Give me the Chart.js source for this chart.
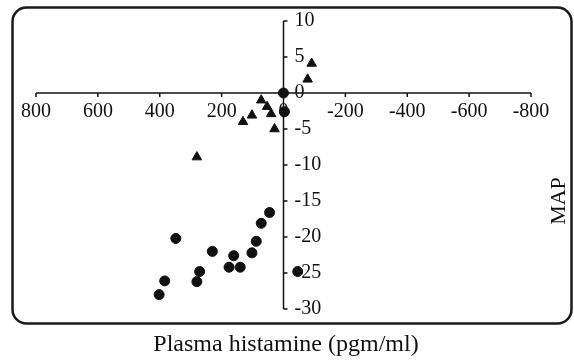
<!DOCTYPE html>
<html>
<head>
<meta charset="utf-8">
<script src="https://cdn.jsdelivr.net/npm/chart.js@4.4.1/dist/chart.umd.min.js"></script>
<style>
  html, body { margin: 0; padding: 0; background: #fff; }
  #wrap { width: 574px; height: 362px; }
</style>
</head>
<body>
<div id="wrap"><canvas id="chart" width="574" height="362"></canvas></div>
<script>
// Tick labels
const xTicks = [800, 600, 400, 200, 0, -200, -400, -600, -800];
const yTicks = [10, 5, 0, -5, -10, -15, -20, -25, -30];

// Series: triangles
const triX = [72, 53, 40, 102, 131, 29, -78, -91, 280];
const triY = [-1.0, -1.9, -2.9, -3.1, -4.0, -5.0, 1.9, 4.1, -8.9];

// Series: circles
const circX = [0, -3, 45, 72, 88, 102, 161, 140, 176, 230, 271, 280, 348, 384, 402, -46];
const circY = [0, -2.6, -16.6, -18.1, -20.6, -22.2, -22.6, -24.2, -24.2, -22.0, -24.8, -26.2, -20.2, -26.1, -28.0, -24.8];

const xTitle = 'Plasma histamine (pgm/ml)';
const yTitle = 'MAP';

const ink = '#111';
const font = "'Liberation Serif', 'DejaVu Serif', serif";

const toPoints = (xs, ys) => xs.map((x, i) => ({ x: x, y: ys[i] }));

// Axes crossing at the origin, frame and titles
const crossAxes = {
    id: 'crossAxes',
    beforeDatasetsDraw(chart) {
        const { ctx, scales: { x, y } } = chart;
        const x0 = x.getPixelForValue(0);
        const y0 = y.getPixelForValue(0);
        ctx.save();
        ctx.strokeStyle = ink;
        ctx.fillStyle = ink;
        ctx.lineWidth = 1.5;

        // horizontal axis
        ctx.beginPath();
        ctx.moveTo(x.getPixelForValue(xTicks[0]), y0);
        ctx.lineTo(x.getPixelForValue(xTicks[xTicks.length - 1]), y0);
        ctx.stroke();
        ctx.font = '20px ' + font;
        ctx.textAlign = 'center';
        ctx.textBaseline = 'middle';
        xTicks.forEach(v => {
            const px = x.getPixelForValue(v);
            ctx.beginPath();
            ctx.moveTo(px, y0);
            ctx.lineTo(px, y0 + 4);
            ctx.stroke();
            ctx.fillText(String(v), px, y0 + 19);
        });

        // vertical axis
        ctx.beginPath();
        ctx.moveTo(x0, y.getPixelForValue(yTicks[0]));
        ctx.lineTo(x0, y.getPixelForValue(yTicks[yTicks.length - 1]));
        ctx.stroke();
        ctx.textAlign = 'left';
        yTicks.forEach(v => {
            const py = y.getPixelForValue(v);
            ctx.beginPath();
            ctx.moveTo(x0, py);
            ctx.lineTo(x0 + 4, py);
            ctx.stroke();
            ctx.fillText(String(v), x0 + 11, py);
        });
        ctx.restore();
    },
    afterDraw(chart) {
        const { ctx } = chart;
        ctx.save();
        ctx.strokeStyle = '#1a1a1a';
        ctx.lineWidth = 2.5;
        ctx.beginPath();
        ctx.roundRect(12.5, 7.5, 559, 316, 14);
        ctx.stroke();

        ctx.fillStyle = ink;
        ctx.font = '24px ' + font;
        ctx.textAlign = 'center';
        ctx.textBaseline = 'middle';
        ctx.fillText(xTitle, 286, 345);

        ctx.font = '22px ' + font;
        ctx.translate(559, 201);
        ctx.rotate(-Math.PI / 2);
        ctx.fillText(yTitle, 0, 0);
        ctx.restore();
    }
};

new Chart(document.getElementById('chart'), {
    type: 'scatter',
    data: {
        datasets: [
            {
                label: 'triangles',
                data: toPoints(triX, triY),
                pointStyle: 'triangle',
                pointRadius: 5.5,
                backgroundColor: ink,
                borderColor: ink,
                borderWidth: 1
            },
            {
                label: 'circles',
                data: toPoints(circX, circY),
                pointStyle: 'circle',
                pointRadius: 5,
                backgroundColor: ink,
                borderColor: ink,
                borderWidth: 1
            }
        ]
    },
    options: {
        responsive: false,
        animation: false,
        layout: { padding: { left: 36, right: 43, top: 21, bottom: 53 } },
        plugins: {
            legend: { display: false },
            tooltip: { enabled: false }
        },
        scales: {
            x: { type: 'linear', min: -800, max: 800, reverse: true, display: false },
            y: { type: 'linear', min: -30, max: 10, display: false }
        }
    },
    plugins: [crossAxes]
});
</script>
</body>
</html>
